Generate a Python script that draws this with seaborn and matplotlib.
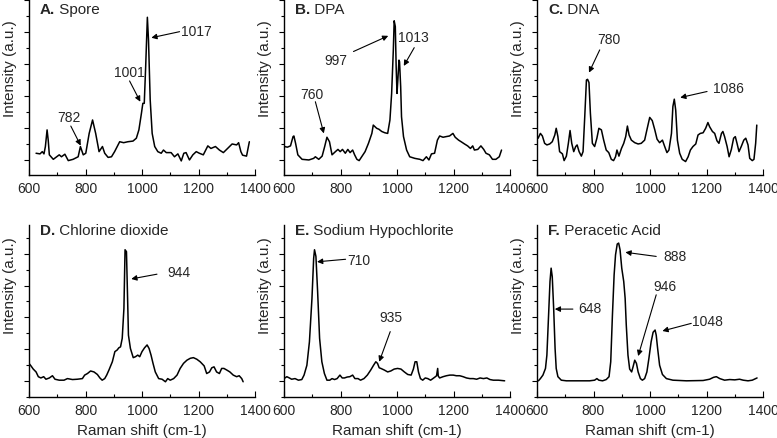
import matplotlib
matplotlib.use("Agg")
import matplotlib.pyplot as plt
import numpy as np
import pandas as pd
import seaborn as sns
from matplotlib.ticker import MultipleLocator

# ---------------- data ----------------
spore_x = [625, 639, 647, 653, 658, 664, 668, 672, 686, 698, 707, 715, 727, 739, 756, 774, 782, 792, 801,
           813, 825, 836, 848, 860, 868, 880, 892, 903, 921, 935, 950, 968, 980, 989, 998, 1003, 1008, 1013,
           1019, 1023, 1029, 1036, 1045, 1056, 1068, 1076, 1086, 1103, 1115, 1127, 1139, 1148, 1156, 1168,
           1180, 1192, 1203, 1217, 1233, 1244, 1260, 1274, 1288, 1303, 1319, 1335, 1342, 1350, 1356, 1370, 1380]
spore_y = [0.21, 0.19, 0.26, 0.19, 0.42, 0.94, 0.62, 0.16, 0.02, 0.10, 0.16, 0.10, 0.18, -0.02, 0.02, 0.10,
           0.42, 0.16, 0.21, 0.83, 1.25, 0.83, 0.26, 0.42, 0.21, 0.08, 0.10, 0.26, 0.57, 0.54, 0.57, 0.59,
           0.68, 0.94, 1.46, 1.77, 1.77, 2.92, 4.46, 3.75, 1.88, 0.83, 0.42, 0.26, 0.21, 0.31, 0.23, 0.23,
           0.10, 0.19, -0.03, 0.21, 0.23, 0.00, 0.16, 0.26, 0.21, 0.16, 0.44, 0.36, 0.42, 0.31, 0.23, 0.36,
           0.50, 0.47, 0.54, 0.26, 0.15, 0.12, 0.57]

dpa_x = [602, 612, 623, 632, 635, 641, 649, 664, 688, 705, 711, 723, 735, 744, 752, 761, 770, 782, 791, 799,
         807, 817, 826, 834, 843, 850, 858, 866, 875, 887, 899, 911, 916, 922, 928, 936, 946, 957, 967, 975,
         981, 987, 990, 994, 997, 1000, 1003, 1007, 1009, 1013, 1016, 1023, 1034, 1045, 1063, 1081, 1092,
         1104, 1113, 1122, 1133, 1143, 1151, 1163, 1174, 1186, 1198, 1206, 1218, 1227, 1239, 1250, 1260,
         1268, 1274, 1286, 1297, 1307, 1315, 1327, 1338, 1350, 1362, 1370]
dpa_y = [0.42, 0.40, 0.44, 0.73, 0.75, 0.52, 0.16, 0.02, 0.00, 0.05, 0.10, 0.02, 0.12, 0.42, 0.71, 0.57, 0.16,
         0.26, 0.33, 0.26, 0.33, 0.21, 0.33, 0.23, 0.31, 0.16, 0.02, -0.02, 0.10, 0.26, 0.52, 0.83, 1.09,
         1.04, 0.99, 0.96, 0.89, 0.85, 0.83, 1.25, 2.08, 3.44, 4.35, 4.17, 2.92, 2.08, 2.50, 3.12, 3.07,
         2.29, 1.35, 0.73, 0.31, 0.10, 0.05, 0.02, -0.02, 0.10, 0.00, 0.19, 0.21, 0.62, 0.75, 0.71, 0.73,
         0.75, 0.83, 0.71, 0.62, 0.57, 0.50, 0.44, 0.36, 0.44, 0.31, 0.33, 0.44, 0.33, 0.21, 0.16, 0.02,
         0.02, 0.10, 0.31]

dna_x = [604, 612, 619, 627, 635, 645, 654, 663, 668, 674, 680, 690, 696, 704, 711, 717, 723, 730, 737, 742,
         749, 757, 763, 769, 775, 779, 784, 789, 796, 804, 812, 819, 828, 836, 845, 854, 863, 871, 878, 883,
         890, 899, 907, 914, 920, 926, 934, 946, 958, 969, 981, 989, 999, 1008, 1017, 1025, 1034, 1044,
         1052, 1060, 1067, 1076, 1081, 1086, 1091, 1097, 1105, 1114, 1126, 1135, 1143, 1152, 1162, 1170,
         1178, 1188, 1197, 1205, 1211, 1221, 1229, 1237, 1244, 1253, 1258, 1264, 1273, 1280, 1288, 1296,
         1302, 1308, 1315, 1323, 1332, 1339, 1347, 1353, 1362, 1368, 1374, 1378]
dna_y = [0.68, 0.83, 0.75, 0.52, 0.47, 0.50, 0.57, 0.78, 0.99, 0.73, 0.26, 0.19, -0.02, 0.12, 0.52, 0.92,
         0.52, 0.26, 0.42, 0.47, 0.26, 0.12, 0.26, 1.35, 2.50, 2.52, 2.42, 1.46, 0.52, 0.42, 0.68, 0.99,
         0.94, 0.62, 0.31, 0.23, 0.02, -0.02, 0.10, 0.31, 0.12, 0.36, 0.52, 0.73, 1.06, 0.78, 0.62, 0.54,
         0.50, 0.52, 0.62, 0.94, 1.33, 1.23, 0.94, 0.65, 0.54, 0.62, 0.42, 0.23, 0.31, 0.83, 1.67, 1.90,
         1.56, 0.62, 0.21, 0.02, -0.05, 0.10, 0.31, 0.42, 0.50, 0.78, 0.83, 0.85, 0.99, 1.17, 1.04, 0.89,
         0.83, 0.60, 0.52, 0.83, 0.89, 0.73, 0.42, 0.10, 0.33, 0.68, 0.73, 0.52, 0.26, 0.42, 0.62, 0.68,
         0.47, 0.05, -0.02, 0.02, 0.52, 1.09]

clo2_x = [600, 607, 615, 625, 633, 642, 652, 660, 672, 683, 692, 707, 724, 736, 754, 771, 789, 797, 807,
          818, 830, 842, 851, 859, 868, 875, 883, 895, 904, 912, 918, 924, 930, 936, 940, 945, 949, 952, 959,
          969, 977, 985, 992, 1000, 1009, 1018, 1025, 1032, 1039, 1047, 1059, 1071, 1083, 1091, 1100, 1112,
          1124, 1135, 1147, 1159, 1171, 1182, 1194, 1206, 1220, 1229, 1239, 1247, 1255, 1264, 1274, 1282,
          1290, 1300, 1311, 1323, 1335, 1344, 1353, 1358]
clo2_y = [0.55, 0.47, 0.37, 0.28, 0.13, 0.09, 0.13, 0.05, 0.09, 0.16, 0.05, 0.02, 0.02, 0.07, 0.04, 0.05,
          0.07, 0.18, 0.23, 0.31, 0.28, 0.20, 0.09, 0.02, 0.07, 0.18, 0.34, 0.60, 0.92, 0.97, 1.04, 1.07,
          1.34, 2.28, 4.13, 4.07, 2.60, 1.44, 1.02, 0.73, 0.76, 0.81, 0.76, 0.92, 1.04, 1.13, 1.02, 0.81,
          0.55, 0.28, 0.07, 0.05, -0.03, 0.07, 0.02, 0.07, 0.18, 0.39, 0.55, 0.65, 0.71, 0.73, 0.68, 0.60,
          0.47, 0.23, 0.28, 0.41, 0.44, 0.28, 0.23, 0.39, 0.39, 0.34, 0.28, 0.18, 0.13, 0.16, 0.07, -0.03]

naocl_x = [600, 610, 619, 627, 639, 651, 663, 671, 681, 690, 699, 705, 708, 713, 719, 726, 734, 743, 752,
           762, 770, 779, 788, 798, 806, 814, 824, 833, 843, 851, 862, 871, 883, 895, 907, 917, 925, 931,
           937, 943, 955, 967, 978, 990, 1002, 1014, 1026, 1038, 1050, 1058, 1064, 1070, 1076, 1083, 1091,
           1100, 1109, 1119, 1127, 1136, 1140, 1144, 1146, 1151, 1163, 1175, 1187, 1199, 1210, 1222, 1234,
           1246, 1258, 1270, 1282, 1294, 1306, 1318, 1329, 1341, 1359, 1381]
naocl_y = [0.07, 0.13, 0.09, 0.05, 0.07, 0.02, 0.04, 0.18, 0.49, 1.23, 2.60, 3.86, 4.13, 3.92, 2.81, 1.34,
           0.60, 0.23, 0.02, 0.02, 0.07, 0.04, 0.07, 0.18, 0.09, 0.09, 0.12, 0.13, 0.18, 0.07, 0.07, 0.02,
           0.07, 0.18, 0.34, 0.49, 0.60, 0.55, 0.41, 0.39, 0.34, 0.28, 0.31, 0.37, 0.39, 0.37, 0.28, 0.20,
           0.18, 0.37, 0.60, 0.60, 0.28, 0.07, 0.02, 0.09, 0.07, 0.02, 0.07, 0.13, 0.16, 0.39, 0.15, 0.09,
           0.13, 0.16, 0.18, 0.18, 0.16, 0.16, 0.13, 0.09, 0.07, 0.07, 0.05, 0.09, 0.07, 0.09, 0.04, 0.02,
           0.02, 0.00]

paa_x = [605, 612, 621, 630, 635, 641, 646, 650, 654, 659, 664, 668, 674, 686, 704, 739, 786, 804, 812, 819,
         832, 845, 855, 861, 867, 873, 878, 884, 889, 894, 900, 907, 912, 916, 922, 928, 935, 940, 946, 952,
         958, 966, 973, 981, 989, 996, 1004, 1011, 1018, 1022, 1027, 1034, 1044, 1058, 1081, 1129, 1188,
         1211, 1225, 1235, 1247, 1264, 1282, 1300, 1317, 1330, 1347, 1362, 1374, 1379]
paa_y = [0.00, 0.07, 0.18, 0.39, 0.81, 2.07, 3.13, 3.55, 3.28, 2.28, 1.02, 0.39, 0.13, 0.02, 0.00, 0.00,
         0.00, 0.02, 0.07, 0.02, 0.00, 0.04, 0.13, 0.60, 2.07, 3.34, 3.97, 4.31, 4.34, 4.13, 3.55, 3.13,
         2.60, 1.76, 0.81, 0.37, 0.28, 0.44, 0.65, 0.55, 0.28, 0.07, 0.02, 0.07, 0.28, 0.70, 1.23, 1.53,
         1.60, 1.44, 1.02, 0.49, 0.20, 0.07, 0.02, 0.00, 0.01, 0.05, 0.11, 0.13, 0.07, 0.02, 0.04, 0.03,
         0.05, 0.02, 0.00, 0.02, 0.07, 0.09]

panel_letters = ["A.", "B.", "C.", "D.", "E.", "F."]
panel_names = ["Spore", "DPA", "DNA", "Chlorine dioxide", "Sodium Hypochlorite", "Peracetic Acid"]
x_ticks = [600, 800, 1000, 1200, 1400]
x_label = "Raman shift (cm-1)"
y_label = "Intensity (a.u.)"

series = [(spore_x, spore_y), (dpa_x, dpa_y), (dna_x, dna_y),
          (clo2_x, clo2_y), (naocl_x, naocl_y), (paa_x, paa_y)]

# annotations: (label, text position, arrow tail, arrow tip, alignment)
annotations = [
    [("1017", (1137, 4.00), (1133, 4.01), (1033, 3.82), "left"),
     ("1001", (954, 2.73), (956, 2.47), (994, 1.82), "center"),
     ("782", (743, 1.30), (748, 1.06), (783, 0.45), "center")],
    [("997", (782, 3.10), (846, 3.39), (969, 3.88), "center"),
     ("1013", (1059, 3.80), (1061, 3.51), (1024, 2.94), "center"),
     ("760", (700, 2.03), (711, 1.82), (741, 0.83), "center")],
    [("780", (855, 3.75), (822, 3.44), (784, 2.73), "center"),
     ("1086", (1276, 2.21), (1202, 2.14), (1107, 1.95), "center")],
    [("944", (1129, 3.39), (1053, 3.36), (962, 3.21), "center")],
    [("710", (865, 3.79), (818, 3.83), (717, 3.75), "center"),
     ("935", (978, 1.97), (976, 1.55), (937, 0.60), "center")],
    [("888", (1087, 3.89), (1022, 3.92), (913, 4.05), "center"),
     ("648", (786, 2.26), (727, 2.26), (663, 2.26), "center"),
     ("946", (1052, 2.97), (1022, 2.71), (958, 0.78), "center"),
     ("1048", (1202, 1.86), (1146, 1.81), (1044, 1.57), "center")],
]

# ---------------- style ----------------
sns.set_theme(style="ticks")
plt.rcParams["font.family"] = ["Liberation Sans", "DejaVu Sans"]
plt.rcParams["axes.linewidth"] = 1.0

W, H = 777, 438
fig = plt.figure(figsize=(W / 100, H / 100), dpi=100)

col_left = [29, 284, 537]
col_width = 226
rows = [(0, 175, (-0.47, 5.0), 4.69, 0.61), (225, 397, (-0.51, 4.91), 4.73, 0.65)]

for i, (xs, ys) in enumerate(series):
    r, c = divmod(i, 3)
    top_px, bot_px, ylim, title_y, ylab_y = rows[r]
    ax = fig.add_axes([col_left[c] / W, 1 - bot_px / H, col_width / W, (bot_px - top_px) / H])
    df = pd.DataFrame({"shift": xs, "intensity": ys})
    sns.lineplot(data=df, x="shift", y="intensity", ax=ax, color="black", lw=1.1,
                 estimator=None, sort=False)
    ax.set_xlim(600, 1400)
    ax.set_ylim(*ylim)
    ax.set_xticks(x_ticks)
    ax.xaxis.set_minor_locator(MultipleLocator(100))
    ax.yaxis.set_major_locator(MultipleLocator(1))
    ax.yaxis.set_minor_locator(MultipleLocator(0.5))
    ax.tick_params(axis="x", which="major", direction="in", length=4, width=0.8,
                   labelsize=10, pad=5, color="black")
    ax.tick_params(axis="x", which="minor", direction="in", length=2, width=0.8, color="black")
    ax.tick_params(axis="y", which="major", direction="out", length=3.5, width=0.8,
                   labelleft=False, color="black")
    ax.tick_params(axis="y", which="minor", direction="out", length=2, width=0.8, color="black")
    for s in ("top", "right"):
        ax.spines[s].set_visible(False)
    for s in ("left", "bottom"):
        ax.spines[s].set_color("black")
    ax.set_ylabel(y_label, fontsize=11, labelpad=3)
    ax.yaxis.label.set_y(ylab_y)
    if r == 1:
        ax.set_xlabel(x_label, fontsize=11, labelpad=4)
    else:
        ax.set_xlabel("")

    t = ax.text(639, title_y, panel_letters[i], fontsize=11, fontweight="bold",
                ha="left", va="center")
    ax.annotate(" " + panel_names[i], xy=(1, 0), xycoords=t, fontsize=11,
                ha="left", va="bottom")

    for lab, tpos, tail, tip, ha in annotations[i]:
        ax.annotate("", xy=tip, xytext=tail,
                    arrowprops=dict(arrowstyle="-|>", color="black", lw=0.8,
                                    mutation_scale=8, shrinkA=0, shrinkB=0))
        ax.text(tpos[0], tpos[1], lab, fontsize=10, ha=ha, va="center")

fig.savefig("out.png", dpi=100)
